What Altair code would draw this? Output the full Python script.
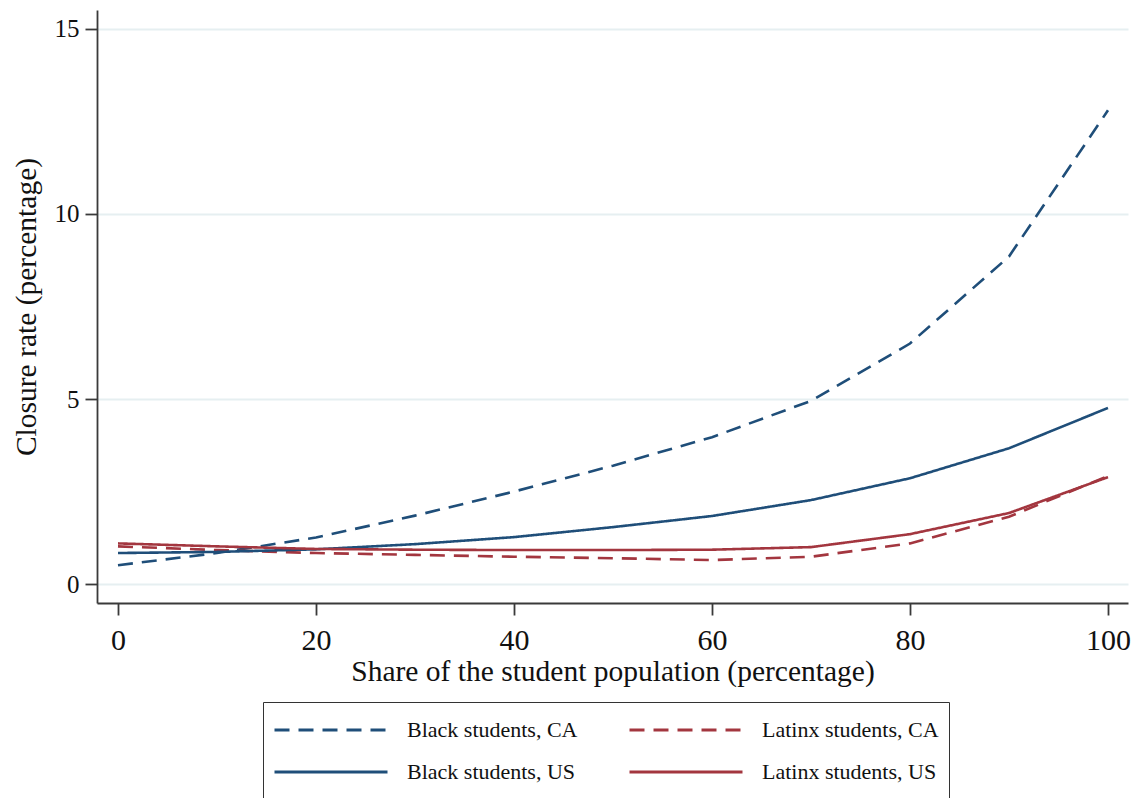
import altair as alt
import pandas as pd

# ---- data ----
share = [0, 10, 20, 30, 40, 50, 60, 70, 80, 90, 100]
black_ca = [0.51, 0.84, 1.26, 1.85, 2.50, 3.20, 3.97, 4.95, 6.50, 8.85, 12.80]
latinx_ca = [1.02, 0.92, 0.84, 0.79, 0.74, 0.70, 0.65, 0.74, 1.10, 1.82, 2.92]
black_us = [0.84, 0.87, 0.94, 1.08, 1.27, 1.54, 1.84, 2.27, 2.86, 3.67, 4.76]
latinx_us = [1.10, 1.02, 0.95, 0.93, 0.92, 0.92, 0.93, 1.00, 1.35, 1.92, 2.89]

series_names = ["Black students, CA", "Latinx students, CA",
                "Black students, US", "Latinx students, US"]
series_values = [black_ca, latinx_ca, black_us, latinx_us]

x_ticks = [0, 20, 40, 60, 80, 100]
y_ticks = [0, 5, 10, 15]

rows = []
for name, vals in zip(series_names, series_values):
    for xv, yv in zip(share, vals):
        rows.append({"share": xv, "rate": yv, "series": name})
df = pd.DataFrame(rows)

FONT = "Liberation Serif"
BLUE = "#1f4e79"
RED = "#a3363f"
AXIS = "#3a3a3a"
TXT = "#111111"

color_scale = alt.Scale(domain=series_names, range=[BLUE, RED, BLUE, RED])
dash_scale = alt.Scale(domain=series_names, range=[[15, 9], [15, 9], [1, 0], [1, 0]])

PAD = "\u00a0" * 4
legend = alt.Legend(
    title=None, orient="none", legendX=166, legendY=692, columns=2,
    direction="horizontal",
    symbolType="stroke", symbolSize=12769, symbolStrokeWidth=3,
    clipHeight=36, rowPadding=6, columnPadding=50, labelOffset=18,
    labelFont=FONT, labelFontSize=22, labelColor=TXT, labelLimit=500,
    padding=10, strokeColor="#333333",
    labelExpr="indexof(datum.label, 'Latinx') >= 0 ? datum.label + '" + PAD + "' : datum.label",
)

chart = alt.Chart(df).mark_line(strokeWidth=2.6, clip=True).encode(
    x=alt.X("share:Q",
            scale=alt.Scale(domain=[-2.12, 102.02], nice=False, zero=False),
            axis=alt.Axis(values=x_ticks, format="d", grid=False,
                          title="Share of the student population (percentage)",
                          tickSize=12, tickWidth=1.8, tickColor=AXIS,
                          domainColor=AXIS, domainWidth=1.8,
                          labelPadding=10, labelFontSize=30, labelFont=FONT,
                          labelColor=TXT, labelFlush=False,
                          titleFont=FONT, titleFontSize=29.5, titleFontWeight="normal",
                          titleColor=TXT, titlePadding=2)),
    y=alt.Y("rate:Q",
            scale=alt.Scale(domain=[-0.51, 15.51], nice=False, zero=False),
            axis=alt.Axis(values=y_ticks, format="d", grid=True,
                          gridColor="#e6eff1", gridWidth=2,
                          title="Closure rate (percentage)",
                          tickSize=12, tickWidth=1.8, tickColor=AXIS,
                          domainColor=AXIS, domainWidth=1.8,
                          labelPadding=6, labelFontSize=25, labelFont=FONT,
                          labelColor=TXT, labelFlush=False,
                          titleFont=FONT, titleFontSize=29.5, titleFontWeight="normal",
                          titleColor=TXT, titlePadding=13)),
    color=alt.Color("series:N", scale=color_scale, sort=series_names, legend=legend),
    strokeDash=alt.StrokeDash("series:N", scale=dash_scale, sort=series_names, legend=legend),
).properties(
    width=1031, height=593,
    autosize=alt.AutoSizeParams(type="none"),
    padding={"left": 97, "top": 10, "right": 8, "bottom": 195},
    background="white",
).configure_view(stroke=None)

chart.save("out.html", embed_options={"renderer": "svg", "actions": False})
